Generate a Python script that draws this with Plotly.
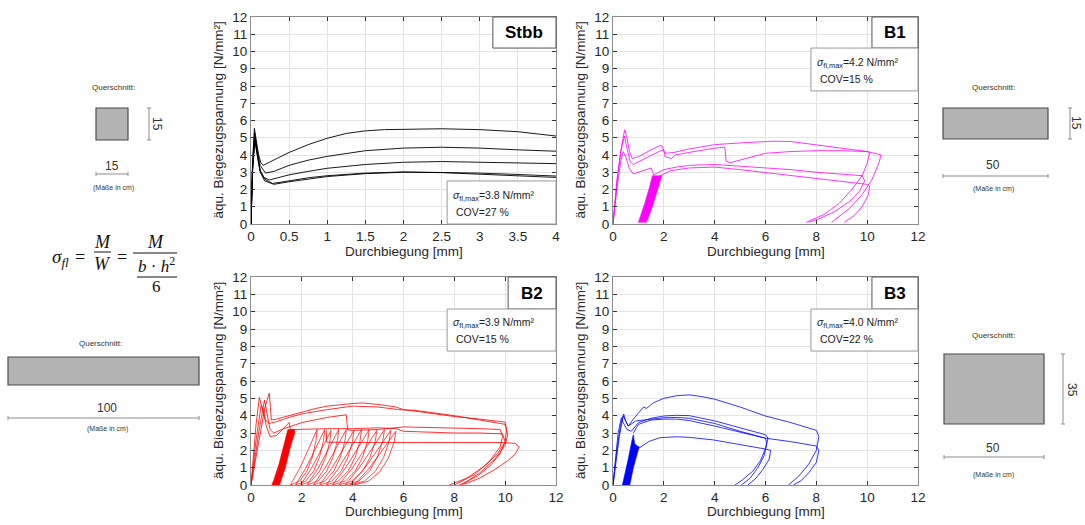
import plotly.graph_objects as go

# ---------------- data ----------------
# Stbb (black) – deflection [mm] / equivalent flexural stress [N/mm²]
stbb_1_x = [0, 0.005, 0.02, 0.044, 0.07, 0.1, 0.13, 0.16, 0.25, 0.5, 0.75, 1.0, 1.25, 1.5, 1.75, 2.0, 2.5, 3.0, 3.5, 4.0]
stbb_1_y = [0, 1.5, 3.6, 5.55, 4.9, 4.0, 3.55, 3.4, 3.6, 4.15, 4.6, 4.97, 5.25, 5.4, 5.47, 5.5, 5.52, 5.47, 5.35, 5.1]
stbb_2_x = [0, 0.005, 0.02, 0.047, 0.08, 0.12, 0.19, 0.3, 0.5, 0.75, 1.0, 1.5, 2.0, 2.5, 3.0, 3.5, 4.0]
stbb_2_y = [0, 1.3, 3.3, 5.3, 4.3, 3.4, 2.95, 3.05, 3.4, 3.7, 3.92, 4.25, 4.4, 4.45, 4.4, 4.3, 4.22]
stbb_3_x = [0, 0.005, 0.02, 0.05, 0.08, 0.12, 0.17, 0.24, 0.3, 0.5, 0.75, 1.0, 1.5, 2.0, 2.5, 3.0, 3.5, 4.0]
stbb_3_y = [0, 1.2, 3.2, 5.1, 4.1, 3.1, 2.7, 2.55, 2.62, 2.85, 3.05, 3.23, 3.45, 3.58, 3.62, 3.58, 3.52, 3.5]
stbb_4_x = [0, 0.005, 0.02, 0.05, 0.08, 0.12, 0.18, 0.3, 0.5, 0.75, 1.0, 1.5, 2.0, 2.5, 3.0, 3.5, 4.0]
stbb_4_y = [0, 1.0, 3.0, 4.8, 4.0, 3.0, 2.5, 2.3, 2.45, 2.62, 2.75, 2.92, 3.0, 2.98, 2.9, 2.8, 2.7]
stbb_5_x = [0, 0.005, 0.02, 0.05, 0.08, 0.12, 0.18, 0.28, 0.5, 0.75, 1.0, 1.5, 2.0, 2.5, 3.0, 3.5, 4.0]
stbb_5_y = [0, 1.1, 3.1, 5.0, 4.1, 3.1, 2.6, 2.35, 2.5, 2.68, 2.8, 2.95, 3.02, 3.0, 2.95, 2.87, 2.78]

# B1 (magenta)
b1_1_x = [0, 0.15, 0.3, 0.46, 0.55, 0.65, 0.75, 1.0, 1.5, 1.85, 1.95, 2.0, 2.1, 2.4, 3.0, 4.0, 5.0, 6.3, 7.0, 8.0, 9.0, 10.0, 10.1, 10.0, 9.8, 9.4, 8.9, 8.3, 7.6]
b1_1_y = [0, 2.5, 4.2, 5.46, 5.0, 4.2, 3.8, 3.9, 4.3, 4.55, 4.5, 4.2, 4.1, 4.15, 4.35, 4.6, 4.7, 4.8, 4.78, 4.6, 4.4, 4.2, 4.15, 3.5, 2.8, 2.0, 1.2, 0.55, 0.1]
b1_2_x = [0, 0.2, 0.35, 0.45, 0.55, 0.68, 0.8, 1.0, 1.5, 1.8, 2.0, 2.05, 2.3, 2.45, 3.0, 4.0, 4.4, 4.45, 4.6, 5.0, 6.0, 7.0, 8.0, 9.0, 10.0, 10.3, 10.55, 10.45, 10.2, 9.8, 9.3, 8.6]
b1_2_y = [0, 3.0, 4.5, 5.1, 4.4, 3.6, 3.45, 3.6, 4.0, 4.2, 4.3, 3.9, 3.8, 4.0, 4.15, 4.4, 4.45, 3.65, 3.55, 3.7, 4.1, 4.2, 4.25, 4.25, 4.2, 4.1, 4.0, 3.5, 2.6, 1.7, 0.9, 0.1]
b1_3_x = [0, 0.15, 0.3, 0.4, 0.5, 0.65, 0.8, 1.0, 1.3, 1.5, 1.55, 1.6, 2.0, 2.5, 3.0, 4.0, 5.0, 6.0, 7.0, 8.0, 9.0, 9.8, 9.9, 9.7, 9.3, 8.7, 8.1, 7.7]
b1_3_y = [0, 2.0, 3.6, 4.2, 3.9, 3.2, 2.9, 3.0, 3.15, 3.25, 3.05, 2.85, 3.15, 3.3, 3.4, 3.45, 3.35, 3.25, 3.15, 3.0, 2.9, 2.8, 2.5, 1.9, 1.3, 0.7, 0.3, 0.1]
b1_4_x = [1.85, 2.3, 3.0, 4.0, 5.0, 6.0, 7.0, 8.0, 9.0, 10.0, 10.1, 10.05, 9.8, 9.5, 9.1]
b1_4_y = [2.8, 3.1, 3.25, 3.3, 3.15, 2.98, 2.82, 2.65, 2.5, 2.3, 2.2, 1.7, 1.0, 0.5, 0.1]
b1_fill_x = [1.0, 1.32, 1.55, 1.75, 1.9, 1.92, 1.55, 1.45, 1.25, 1.05]
b1_fill_y = [0.1, 0.1, 1.0, 2.0, 2.6, 2.8, 2.8, 2.2, 1.2, 0.4]

# B2 (red)
b2_1_x = [0, 0.3, 0.55, 0.72, 0.76, 0.8, 1.0, 1.45, 2.0, 2.5, 3.0, 4.0, 4.4, 5.0, 5.7, 6.0, 7.0, 8.0, 9.0, 10.0, 10.05, 10.0, 9.7, 9.2, 8.5, 7.8]
b2_1_y = [0, 2.5, 4.5, 5.3, 4.5, 3.75, 3.8, 4.0, 4.2, 4.4, 4.55, 4.7, 4.73, 4.65, 4.5, 4.35, 4.15, 3.95, 3.8, 3.63, 3.2, 2.5, 1.8, 1.1, 0.4, 0.0]
b2_2_x = [0, 0.2, 0.33, 0.42, 0.55, 0.7, 1.0, 1.5, 2.0, 3.0, 4.0, 5.0, 5.8, 6.5, 8.0, 9.0, 10.0, 10.1, 10.0, 9.6, 9.0, 8.3]
b2_2_y = [0, 3.5, 5.05, 4.5, 3.8, 3.55, 3.65, 3.9, 4.1, 4.35, 4.55, 4.5, 4.35, 4.3, 4.0, 3.75, 3.5, 2.9, 2.3, 1.5, 0.7, 0.0]
b2_3_x = [0, 0.3, 0.53, 0.62, 0.75, 0.9, 1.2, 2.0, 3.0, 3.75, 3.8, 3.9, 5.0, 6.0, 8.0, 9.0, 9.8, 9.9, 9.8, 9.4, 8.8, 8.0]
b2_3_y = [0, 3.0, 4.9, 4.2, 3.2, 3.0, 3.2, 3.6, 3.9, 4.05, 3.2, 3.15, 3.2, 3.35, 3.3, 3.25, 3.2, 2.8, 2.2, 1.4, 0.6, 0.0]
b2_4_x = [0, 0.2, 0.4, 0.5, 0.6, 0.75, 1.0, 1.3, 1.5, 1.55, 1.7, 3.0, 4.0, 5.0, 5.7, 6.0, 7.0, 8.0, 9.0, 9.9, 10.0, 9.8, 9.4, 8.9, 8.2]
b2_4_y = [0, 2.6, 4.6, 4.3, 3.4, 2.8, 2.85, 3.3, 3.6, 3.2, 3.2, 3.25, 3.25, 3.3, 3.25, 3.1, 3.05, 3.0, 3.0, 2.95, 2.5, 1.8, 1.1, 0.5, 0.0]
b2_5_x = [2.96, 2.98, 4.0, 6.0, 8.0, 9.87, 10.4, 10.55, 10.4, 10.1, 9.6, 9.0, 8.4]
b2_5_y = [3.15, 2.47, 2.45, 2.45, 2.45, 2.45, 2.4, 2.2, 1.8, 1.4, 0.9, 0.4, 0.05]
b2_fill_x = [0.82, 1.12, 1.35, 1.55, 1.72, 1.72, 1.45, 1.3, 1.1, 0.9]
b2_fill_y = [0, 0, 1.0, 2.2, 3.0, 3.2, 3.2, 2.3, 1.2, 0.3]
# unloading / reloading cycles of B2: residual deflection, deflection at top, stress at top
b2_loop_base = [1.55, 1.75, 1.95, 2.2, 2.45, 2.7, 2.95, 3.2, 3.45, 3.7, 3.9, 4.05]
b2_loop_top = [2.6, 2.9, 3.15, 3.45, 3.75, 4.05, 4.35, 4.65, 4.95, 5.25, 5.5, 5.7]
b2_loop_peak = [3.2, 3.2, 3.15, 3.2, 3.2, 3.15, 3.2, 3.2, 3.15, 3.2, 3.15, 3.1]

# B3 (blue)
b3_1_x = [0, 0.15, 0.3, 0.42, 0.5, 0.6, 0.8, 1.05, 1.2, 1.32, 1.45, 1.6, 2.0, 2.5, 3.0, 3.5, 4.0, 5.0, 6.0, 7.0, 8.0, 8.1, 8.0, 7.7, 7.3, 6.9]
b3_1_y = [0, 2.0, 3.5, 4.1, 3.7, 3.4, 3.8, 4.27, 4.5, 4.42, 4.55, 4.75, 5.0, 5.15, 5.2, 5.1, 4.95, 4.5, 3.98, 3.6, 3.15, 2.8, 2.0, 1.2, 0.5, 0.0]
b3_2_x = [0, 0.2, 0.33, 0.4, 0.55, 0.72, 1.0, 1.5, 2.0, 2.5, 3.0, 4.0, 5.0, 6.0, 6.1, 6.0, 5.8, 5.5, 5.1, 4.8]
b3_2_y = [0, 3.0, 3.88, 3.6, 3.2, 3.1, 3.6, 3.85, 3.98, 4.02, 4.0, 3.7, 3.3, 2.9, 2.7, 2.1, 1.4, 0.8, 0.3, 0.0]
b3_3_x = [0, 0.25, 0.4, 0.5, 0.6, 0.9, 1.5, 2.0, 2.5, 3.0, 4.0, 5.0, 6.0, 6.05, 5.95, 5.7, 5.4, 5.05]
b3_3_y = [0, 2.8, 3.98, 3.7, 3.4, 3.7, 3.82, 3.88, 3.9, 3.85, 3.55, 3.1, 2.7, 2.4, 1.7, 1.0, 0.4, 0.0]
b3_4_x = [0.8, 1.0, 1.5, 2.0, 2.5, 3.0, 4.0, 5.0, 6.0, 7.0, 8.0, 8.1, 8.0, 7.7, 7.4, 7.1]
b3_4_y = [3.0, 3.5, 3.75, 3.8, 3.8, 3.72, 3.4, 3.05, 2.7, 2.5, 2.25, 2.0, 1.3, 0.7, 0.25, 0.0]
b3_5_x = [0.9, 1.05, 1.4, 1.84, 2.5, 3.0, 3.95, 5.0, 6.05, 6.2, 6.15, 5.9, 5.6, 5.3]
b3_5_y = [2.1, 2.15, 2.5, 2.73, 2.78, 2.75, 2.6, 2.35, 2.06, 2.0, 1.5, 0.9, 0.35, 0.0]
b3_fill_x = [0.37, 0.66, 0.8, 0.95, 1.03, 0.95, 0.85, 0.8, 0.75, 0.6, 0.45]
b3_fill_y = [0, 0, 1.0, 1.8, 2.2, 2.25, 2.4, 2.9, 2.6, 1.5, 0.5]

panel_names = ["Stbb", "B1", "B2", "B3"]
sigma_max = [3.8, 4.2, 3.9, 4.0]
cov = [27, 15, 15, 22]
x_ticks_stbb = [0, 0.5, 1, 1.5, 2, 2.5, 3, 3.5, 4]
x_ticks_b = [0, 2, 4, 6, 8, 10, 12]
y_ticks = list(range(0, 13))
# cross-sections [cm]: (width, height)
sec_stbb = (15, 15)
sec_b1 = (50, 15)
sec_b2 = (100, None)
sec_b3 = (50, 35)

# ---------------- figure ----------------
W, H = 1085, 525
FONT = "Liberation Sans, Arial, sans-serif"
fig = go.Figure()

def add_line(xs, ys, color, ax, width=0.8):
    fig.add_trace(go.Scatter(x=xs, y=ys, mode="lines", line=dict(color=color, width=width),
                             xaxis=ax[0], yaxis=ax[1], showlegend=False, hoverinfo="skip"))

def add_fill(xs, ys, color, ax):
    fig.add_trace(go.Scatter(x=xs + xs[:1], y=ys + ys[:1], mode="lines", fill="toself",
                             fillcolor=color, line=dict(color=color, width=0.6),
                             xaxis=ax[0], yaxis=ax[1], showlegend=False, hoverinfo="skip"))

A1, A2, A3, A4 = ("x", "y"), ("x2", "y2"), ("x3", "y3"), ("x4", "y4")
for xs, ys in [(stbb_1_x, stbb_1_y), (stbb_2_x, stbb_2_y), (stbb_3_x, stbb_3_y),
               (stbb_4_x, stbb_4_y), (stbb_5_x, stbb_5_y)]:
    add_line(xs, ys, "#000000", A1, 0.9)

MAG, RED, BLU = "#ff00ff", "#ff0000", "#0000ff"
add_fill(b1_fill_x, b1_fill_y, MAG, A2)
for xs, ys in [(b1_1_x, b1_1_y), (b1_2_x, b1_2_y), (b1_3_x, b1_3_y), (b1_4_x, b1_4_y)]:
    add_line(xs, ys, MAG, A2)

# leaf shape template of a single cycle (fractions of span / peak)
LEAF_FX = [0, 0.35, 0.68, 1.0, 0.96, 0.82, 0.62, 0.35, 0]
LEAF_FY = [0, 0.3, 0.65, 1.0, 0.8, 0.5, 0.25, 0.07, 0]
lx, ly = [], []
for xb, xt, yt in zip(b2_loop_base, b2_loop_top, b2_loop_peak):
    lx += [xb + f * (xt - xb) for f in LEAF_FX] + [None]
    ly += [f * yt for f in LEAF_FY] + [None]
add_line(lx, ly, RED, A3, 0.7)
add_fill(b2_fill_x, b2_fill_y, RED, A3)
for xs, ys in [(b2_1_x, b2_1_y), (b2_2_x, b2_2_y), (b2_3_x, b2_3_y), (b2_4_x, b2_4_y), (b2_5_x, b2_5_y)]:
    add_line(xs, ys, RED, A3)

add_fill(b3_fill_x, b3_fill_y, BLU, A4)
for xs, ys in [(b3_1_x, b3_1_y), (b3_2_x, b3_2_y), (b3_3_x, b3_3_y), (b3_4_x, b3_4_y), (b3_5_x, b3_5_y)]:
    add_line(xs, ys, BLU, A4)

# axes domains (pixels -> paper)
def pxx(x): return x / W
def pyy(y): return 1 - y / H

left_dom = [pxx(251), pxx(556)]
right_dom = [pxx(613), pxx(918)]
top_dom = [pyy(224), pyy(17)]
bot_dom = [pyy(485), pyy(277)]

common = dict(showgrid=True, gridcolor="#e4e4e4", gridwidth=1, zeroline=False, showline=True,
              linecolor="#8c8c8c", linewidth=1, mirror="ticks", ticks="inside", ticklen=4,
              tickcolor="#333333", tickfont=dict(family=FONT, size=13.5, color="#262626"),
              fixedrange=True, automargin=False)
fig.update_layout(
    xaxis=dict(common, domain=left_dom, range=[0, 4], tickvals=x_ticks_stbb, anchor="y"),
    yaxis=dict(common, domain=top_dom, range=[0, 12], tickvals=y_ticks, anchor="x"),
    xaxis2=dict(common, domain=right_dom, range=[0, 12], tickvals=x_ticks_b, anchor="y2"),
    yaxis2=dict(common, domain=top_dom, range=[0, 12], tickvals=y_ticks, anchor="x2"),
    xaxis3=dict(common, domain=left_dom, range=[0, 12], tickvals=x_ticks_b, anchor="y3"),
    yaxis3=dict(common, domain=bot_dom, range=[0, 12], tickvals=y_ticks, anchor="x3"),
    xaxis4=dict(common, domain=right_dom, range=[0, 12], tickvals=x_ticks_b, anchor="y4"),
    yaxis4=dict(common, domain=bot_dom, range=[0, 12], tickvals=y_ticks, anchor="x4"),
    width=W, height=H, margin=dict(l=0, r=0, t=0, b=0, pad=0, autoexpand=False),
    paper_bgcolor="white", plot_bgcolor="white", showlegend=False,
)

shapes, annos = [], []

def anno(**kw):
    kw.setdefault("xanchor", "center")
    kw.setdefault("yanchor", "middle")
    kw.setdefault("showarrow", False)
    annos.append(kw)

# axis titles
for cx, cy in [(218, 120.5), (580, 120.5), (218, 381), (580, 381)]:
    anno(x=pxx(cx), y=pyy(cy), xref="paper", yref="paper", text="äqu. Biegezugspannung [N/mm²]",
         textangle=-90, font=dict(family=FONT, size=13.5, color="#262626"))
for cx, cy in [(403.5, 251), (765.5, 251), (403.5, 511), (765.5, 511)]:
    anno(x=pxx(cx), y=pyy(cy), xref="paper", yref="paper", text="Durchbiegung [mm]",
         font=dict(family=FONT, size=13.5, color="#262626"))

# panel label boxes and info boxes (axis-domain coordinates)
label_x0 = [0.793, 0.849, 0.843, 0.849]
label_y0 = [0.850, 0.850, 0.846, 0.846]
info_box = [(0.643, 0.0, 0.208), (0.649, 0.643, 0.850), (0.643, 0.644, 0.846), (0.649, 0.644, 0.846)]
axn = [("x", "y"), ("x2", "y2"), ("x3", "y3"), ("x4", "y4")]
for i, (xa, ya) in enumerate(axn):
    xr, yr = xa + " domain", ya + " domain"
    shapes.append(dict(type="rect", xref=xr, yref=yr, x0=label_x0[i], x1=1, y0=label_y0[i], y1=1,
                       line=dict(color="#555555", width=1), fillcolor="white", layer="above"))
    anno(xref=xr, yref=yr, x=(label_x0[i] + 1) / 2, y=(label_y0[i] + 1) / 2, text="<b>%s</b>" % panel_names[i],
         font=dict(family=FONT, size=17, color="#000000"))
    bx0, by0, by1 = info_box[i]
    shapes.append(dict(type="rect", xref=xr, yref=yr, x0=bx0, x1=1, y0=by0, y1=by1,
                       line=dict(color="#9a9a9a", width=1), fillcolor="white", layer="above"))
    hgt = by1 - by0
    anno(xref=xr, yref=yr, x=bx0 + 0.012, y=by0 + hgt * 0.66, xanchor="left",
         text="<i>σ</i><sub>fl,max</sub>=%.1f N/mm²" % sigma_max[i],
         font=dict(family=FONT, size=10.5, color="#222222"))
    anno(xref=xr, yref=yr, x=bx0 + 0.022, y=by0 + hgt * 0.28, xanchor="left",
         text="COV=%d %%" % cov[i], font=dict(family=FONT, size=10.5, color="#222222"))

# ---- cross-section sketches (pixel positions) ----
GRAYF, EDGE, DIM = "#b3b3b3", "#4d4d4d", "#8c8c8c"

def rect(x0, y0, x1, y1):
    shapes.append(dict(type="rect", xref="paper", yref="paper", x0=pxx(x0), x1=pxx(x1), y0=pyy(y1), y1=pyy(y0),
                       fillcolor=GRAYF, line=dict(color=EDGE, width=1.2)))

def seg(x0, y0, x1, y1, color=DIM, w=1):
    shapes.append(dict(type="line", xref="paper", yref="paper", x0=pxx(x0), x1=pxx(x1), y0=pyy(y0), y1=pyy(y1),
                       line=dict(color=color, width=w)))

def hdim(x0, x1, y):
    seg(x0, y, x1, y); seg(x0, y - 2, x0, y + 2); seg(x1, y - 2, x1, y + 2)

def vdim(x, y0, y1):
    seg(x, y0, x, y1); seg(x - 2, y0, x + 2, y0); seg(x - 2, y1, x + 2, y1)

def txt(x, y, s, size, angle=0, color="#333333", fam=FONT):
    anno(x=pxx(x), y=pyy(y), xref="paper", yref="paper", text=s, textangle=angle,
         font=dict(family=fam, size=size, color=color))

# Stbb section
txt(113, 87, "Querschnitt:", 8)
rect(96, 108, 128, 140)
vdim(149, 108, 140)
txt(157, 124, str(sec_stbb[1]), 12, angle=90)
txt(112, 166, str(sec_stbb[0]), 12)
hdim(96, 128, 174)
txt(113, 188, "(Maße in cm)", 7)

# B2 section
txt(100, 343, "Querschnitt:", 8)
rect(8, 357, 199, 385)
txt(107, 408, str(sec_b2[0]), 12)
hdim(8, 199, 418)
txt(107, 429, "(Maße in cm)", 7)

# B1 section
txt(993, 88, "Querschnitt:", 8)
rect(943, 108, 1048, 139)
vdim(1070, 108, 139)
txt(1076, 123, str(sec_b1[1]), 12, angle=90)
txt(993, 165, str(sec_b1[0]), 12)
hdim(943, 1048, 176)
txt(993, 189, "(Maße in cm)", 7)

# B3 section
txt(993, 335, "Querschnitt:", 8)
rect(944, 354, 1044, 424)
vdim(1063, 354, 424)
txt(1072, 390, str(sec_b3[1]), 12, angle=90)
txt(993, 448, str(sec_b3[0]), 12)
hdim(944, 1044, 457)
txt(993, 475, "(Maße in cm)", 7)

# formula sigma_fl = M/W = M/(b*h^2/6)
SERIF = "Liberation Serif, DejaVu Serif, serif"
txt(60, 258, "<i>σ<sub>fl</sub></i>", 19, color="#111111", fam=SERIF)
txt(80, 257, "=", 18, color="#111111", fam=SERIF)
txt(102, 242, "<i>M</i>", 18, color="#111111", fam=SERIF)
seg(94, 252, 111, 252, color="#111111", w=1)
txt(102, 264, "<i>W</i>", 18, color="#111111", fam=SERIF)
txt(122, 257, "=", 18, color="#111111", fam=SERIF)
txt(155, 242, "<i>M</i>", 18, color="#111111", fam=SERIF)
seg(133, 253, 177, 253, color="#111111", w=1)
txt(156, 265, "<i>b</i> · <i>h</i><sup>2</sup>", 17, color="#111111", fam=SERIF)
seg(137, 277, 177, 277, color="#111111", w=1)
txt(156, 286, "6", 17, color="#111111", fam=SERIF)

fig.update_layout(shapes=shapes, annotations=annos)
fig.write_html("out.html", config={"displayModeBar": False},
               post_script="document.body.style.margin='0';document.body.style.overflow='hidden';")
